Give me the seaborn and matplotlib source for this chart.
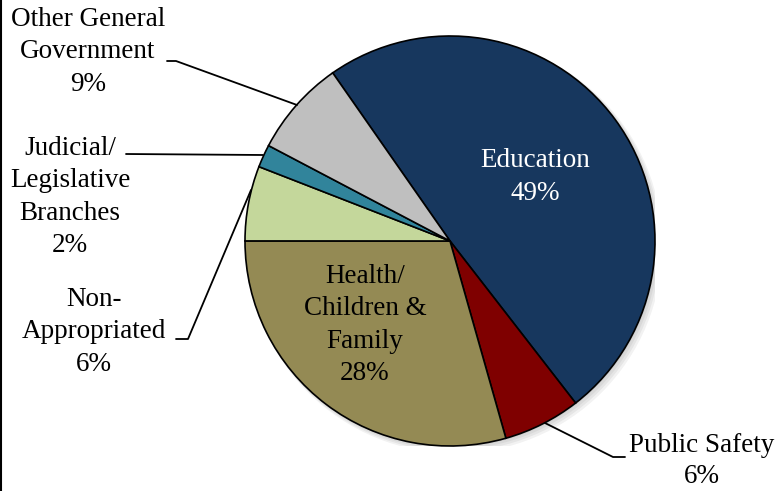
import matplotlib
matplotlib.use("Agg")
import matplotlib.pyplot as plt
import seaborn as sns
from matplotlib.patches import Circle
from matplotlib.lines import Line2D

# slice data, clockwise from the Education slice
categories = ["Education", "Public Safety", "Health/\nChildren &\nFamily",
              "Non-\nAppropriated", "Judicial/\nLegislative\nBranches",
              "Other General\nGovernment"]
shares = [49.2, 6.1, 29.4, 5.9, 1.8, 7.6]
pct_labels = ["49%", "6%", "28%", "6%", "2%", "9%"]
colors = ["#17375E", "#7F0000", "#948A54", "#C4D79B", "#31849B", "#BFBFBF"]

sns.set_theme(style="white")
plt.rcParams["font.family"] = ["Liberation Serif", "DejaVu Serif"]
pal = sns.color_palette(colors)

W, H = 783, 491
cx, cy, R = 450, 241, 205
fig = plt.figure(figsize=(W / 100, H / 100), dpi=100)
ax = fig.add_axes([(cx - R) / W, (H - cy - R) / H, 2 * R / W, 2 * R / H])

# soft shadow behind the pie
for i, a in enumerate([0.05, 0.05, 0.05, 0.05]):
    off = 0.006 * (i + 1)
    ax.add_patch(Circle((off, -off), 1.0 + 0.004 * i, color="black",
                        alpha=a, lw=0, zorder=0))

wedges, _ = ax.pie(shares, colors=pal, startangle=124.9, counterclock=False,
                   radius=1.0,
                   wedgeprops=dict(edgecolor="black", linewidth=1.2))
for w in wedges:
    w.set_zorder(2)
ax.set_xlim(-1, 1)
ax.set_ylim(-1, 1)
ax.set_aspect("auto")
ax.axis("off")


def to_data(px, py):
    return (px - cx) / R, (cy - py) / R


fs = 19.5
txt_kw = dict(ha="center", va="center", fontsize=fs, linespacing=1.37,
              clip_on=False, zorder=5)

# inside labels
x, y = to_data(535, 177)
ax.text(x, y, f"{categories[0]}\n{pct_labels[0]}", color="white", **txt_kw)
x, y = to_data(365, 325)
ax.text(x, y, f"{categories[2]}\n{pct_labels[2]}", color="black", **txt_kw)

# outside labels
outside = [(3, 94, 332), (4, 70, 197), (5, 88, 52)]
for idx, px, py in outside:
    x, y = to_data(px, py)
    ax.text(x, y, f"{categories[idx]}\n{pct_labels[idx]}", color="black", **txt_kw)

# Public Safety sits at the bottom edge, keep it just inside the figure
x, y = to_data(702, 461)
ax.text(x, y, f"{categories[1]}\n{pct_labels[1]}", color="black",
        ha="center", va="center", fontsize=fs, linespacing=1.3,
        clip_on=False, zorder=5)

# leader lines (pixel path -> data coords)
leaders = [
    [(545, 423), (613, 457), (625, 457)],
    [(251, 190), (188, 339), (176, 339)],
    [(263, 155), (126, 154)],
    [(297, 105), (176, 61), (167, 61)],
]
for path in leaders:
    pts = [to_data(px, py) for px, py in path]
    ax.plot([p[0] for p in pts], [p[1] for p in pts], color="black",
            lw=1.3, clip_on=False, zorder=4)

fig.add_artist(Line2D([0.0015, 0.0015], [0, 1], color="black", lw=1.5))

fig.savefig("out.png", dpi=100, facecolor="white")
